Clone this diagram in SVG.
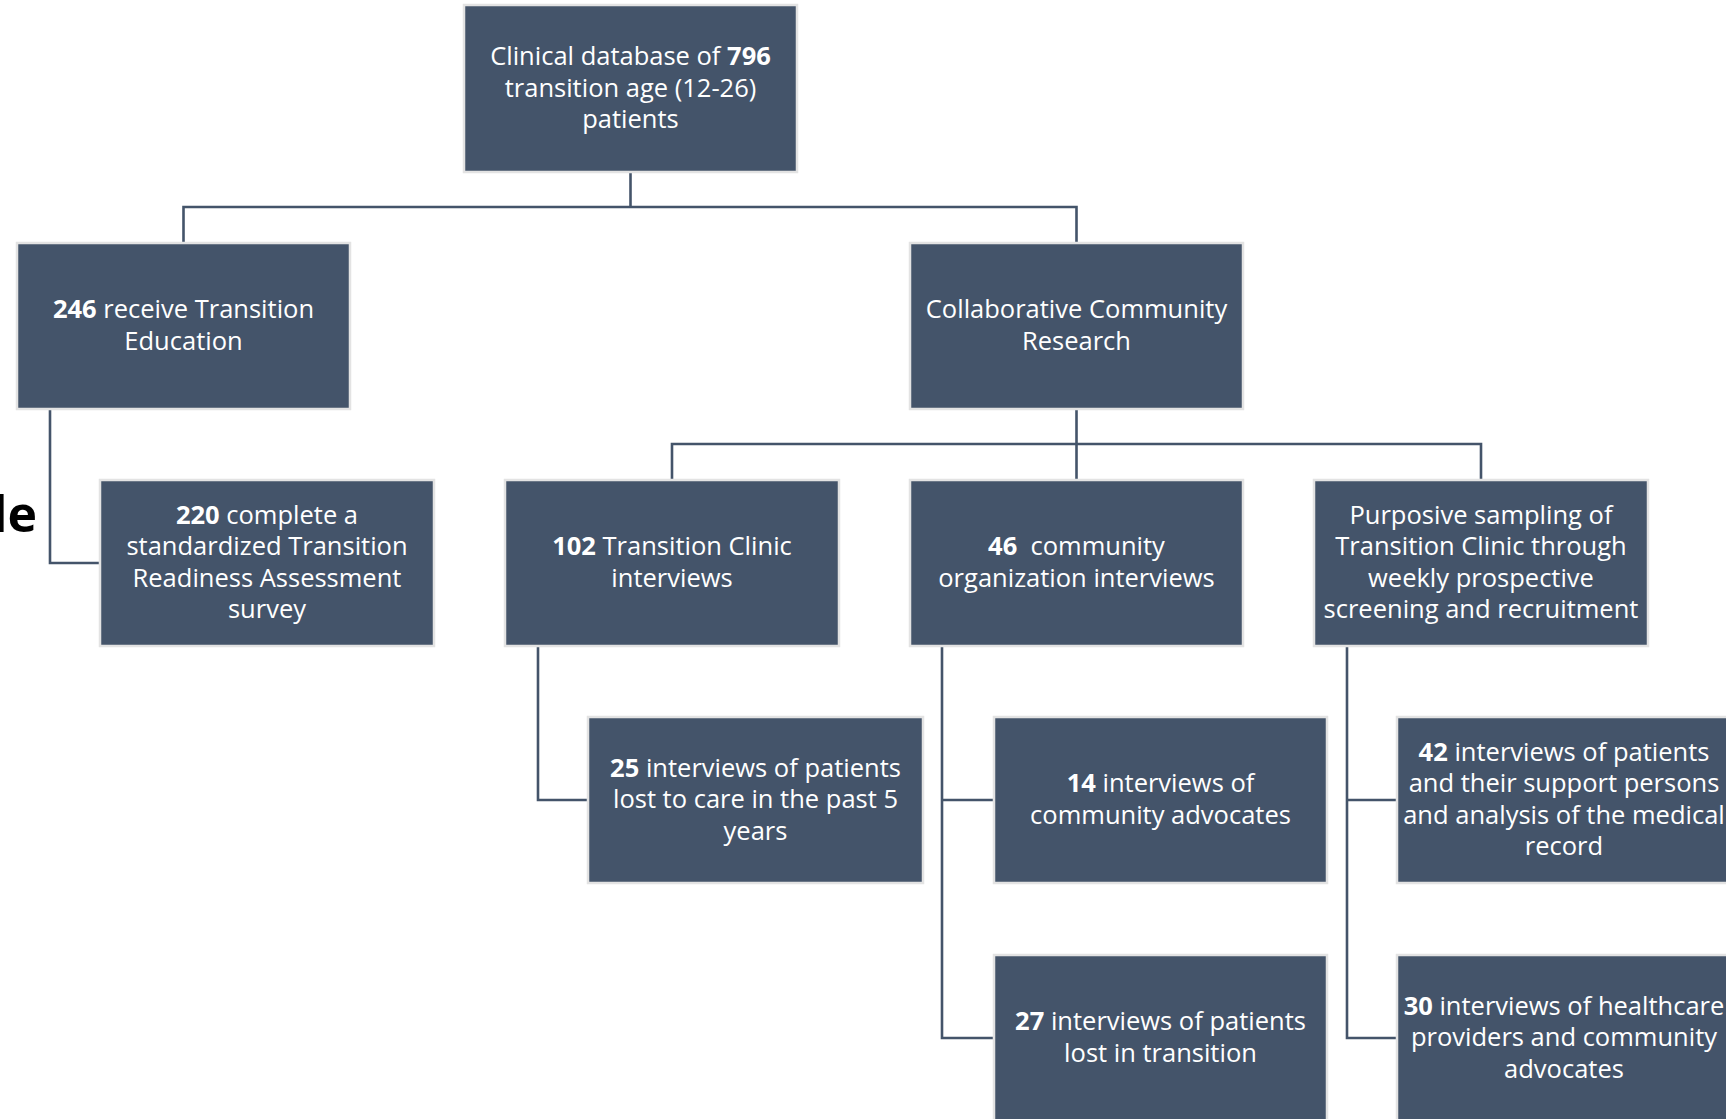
<svg xmlns="http://www.w3.org/2000/svg" width="1726" height="1119" viewBox="0 0 1726 1119">
  <style>
    .box { fill: #44546a; stroke: #e3e3e3; stroke-width: 2.5; }
    .lbl { font-family: "Open Sans", "Liberation Sans", sans-serif; font-size: 25.5px; fill: #ffffff; text-anchor: middle; }
    .b { font-weight: bold; }
    .wire { fill: none; stroke: #44546a; stroke-width: 2.6; }
    .stray { font-family: "Open Sans", "Liberation Sans", sans-serif; font-size: 50px; font-weight: bold; fill: #000000; text-anchor: end; }
  </style>
  <rect width="1726" height="1119" fill="#ffffff"/>

  <!-- cropped heading fragment on the left edge -->
  <text class="stray" x="37" y="532">le</text>

  <g id="connectors" class="wire">
    <path d="M630.5,172 V207"/>
    <path d="M183.5,243 V207 H1076.5 V243"/>
    <path d="M50,409 V563 H100"/>
    <path d="M1076.5,409 V480"/>
    <path d="M672,480 V444 H1481 V480"/>
    <path d="M538,647 V800 H588"/>
    <path d="M942,647 V1038 H994"/>
    <path d="M942,800 H994"/>
    <path d="M1347,647 V1038 H1397"/>
    <path d="M1347,800 H1397"/>
  </g>

  <g id="database">
    <rect class="box" x="464" y="5" width="333" height="167"/>
    <text class="lbl"><tspan x="630.5" y="65">Clinical database of <tspan class="b">796</tspan></tspan><tspan x="630.5" y="96.5">transition age (12-26)</tspan><tspan x="630.5" y="128">patients</tspan></text>
  </g>

  <g id="education">
    <rect class="box" x="17" y="243" width="333" height="166"/>
    <text class="lbl"><tspan x="183.5" y="318.25"><tspan class="b">246</tspan> receive Transition</tspan><tspan x="183.5" y="349.75">Education</tspan></text>
  </g>

  <g id="community-research">
    <rect class="box" x="910" y="243" width="333" height="166"/>
    <text class="lbl"><tspan x="1076.5" y="318.25">Collaborative Community</tspan><tspan x="1076.5" y="349.75">Research</tspan></text>
  </g>

  <g id="readiness-survey">
    <rect class="box" x="100" y="480" width="334" height="166"/>
    <text class="lbl"><tspan x="267" y="523.75"><tspan class="b">220</tspan> complete a</tspan><tspan x="267" y="555.25">standardized Transition</tspan><tspan x="267" y="586.75">Readiness Assessment</tspan><tspan x="267" y="618.25">survey</tspan></text>
  </g>

  <g id="clinic-interviews">
    <rect class="box" x="505" y="480" width="334" height="166"/>
    <text class="lbl"><tspan x="672" y="555.25"><tspan class="b">102</tspan> Transition Clinic</tspan><tspan x="672" y="586.75">interviews</tspan></text>
  </g>

  <g id="organization-interviews">
    <rect class="box" x="910" y="480" width="333" height="166"/>
    <text class="lbl"><tspan x="1076.5" y="555.25"><tspan class="b">46</tspan>&#160; community</tspan><tspan x="1076.5" y="586.75">organization interviews</tspan></text>
  </g>

  <g id="purposive-sampling">
    <rect class="box" x="1314" y="480" width="334" height="166"/>
    <text class="lbl"><tspan x="1481" y="523.75">Purposive sampling of</tspan><tspan x="1481" y="555.25">Transition Clinic through</tspan><tspan x="1481" y="586.75">weekly prospective</tspan><tspan x="1481" y="618.25">screening and recruitment</tspan></text>
  </g>

  <g id="lost-to-care">
    <rect class="box" x="588" y="717" width="335" height="166"/>
    <text class="lbl"><tspan x="755.5" y="776.5"><tspan class="b">25</tspan> interviews of patients</tspan><tspan x="755.5" y="808">lost to care in the past 5</tspan><tspan x="755.5" y="839.5">years</tspan></text>
  </g>

  <g id="community-advocates">
    <rect class="box" x="994" y="717" width="333" height="166"/>
    <text class="lbl"><tspan x="1160.5" y="792.25"><tspan class="b">14</tspan> interviews of</tspan><tspan x="1160.5" y="823.75">community advocates</tspan></text>
  </g>

  <g id="lost-in-transition">
    <rect class="box" x="994" y="955" width="333" height="166"/>
    <text class="lbl"><tspan x="1160.5" y="1030.25"><tspan class="b">27</tspan> interviews of patients</tspan><tspan x="1160.5" y="1061.75">lost in transition</tspan></text>
  </g>

  <g id="patients-support">
    <rect class="box" x="1397" y="717" width="334" height="166"/>
    <text class="lbl"><tspan x="1564" y="760.75"><tspan class="b">42</tspan> interviews of patients</tspan><tspan x="1564" y="792.25">and their support persons</tspan><tspan x="1564" y="823.75">and analysis of the medical</tspan><tspan x="1564" y="855.25">record</tspan></text>
  </g>

  <g id="providers">
    <rect class="box" x="1397" y="955" width="334" height="166"/>
    <text class="lbl"><tspan x="1564" y="1014.5"><tspan class="b">30</tspan> interviews of healthcare</tspan><tspan x="1564" y="1046">providers and community</tspan><tspan x="1564" y="1077.5">advocates</tspan></text>
  </g>
</svg>
